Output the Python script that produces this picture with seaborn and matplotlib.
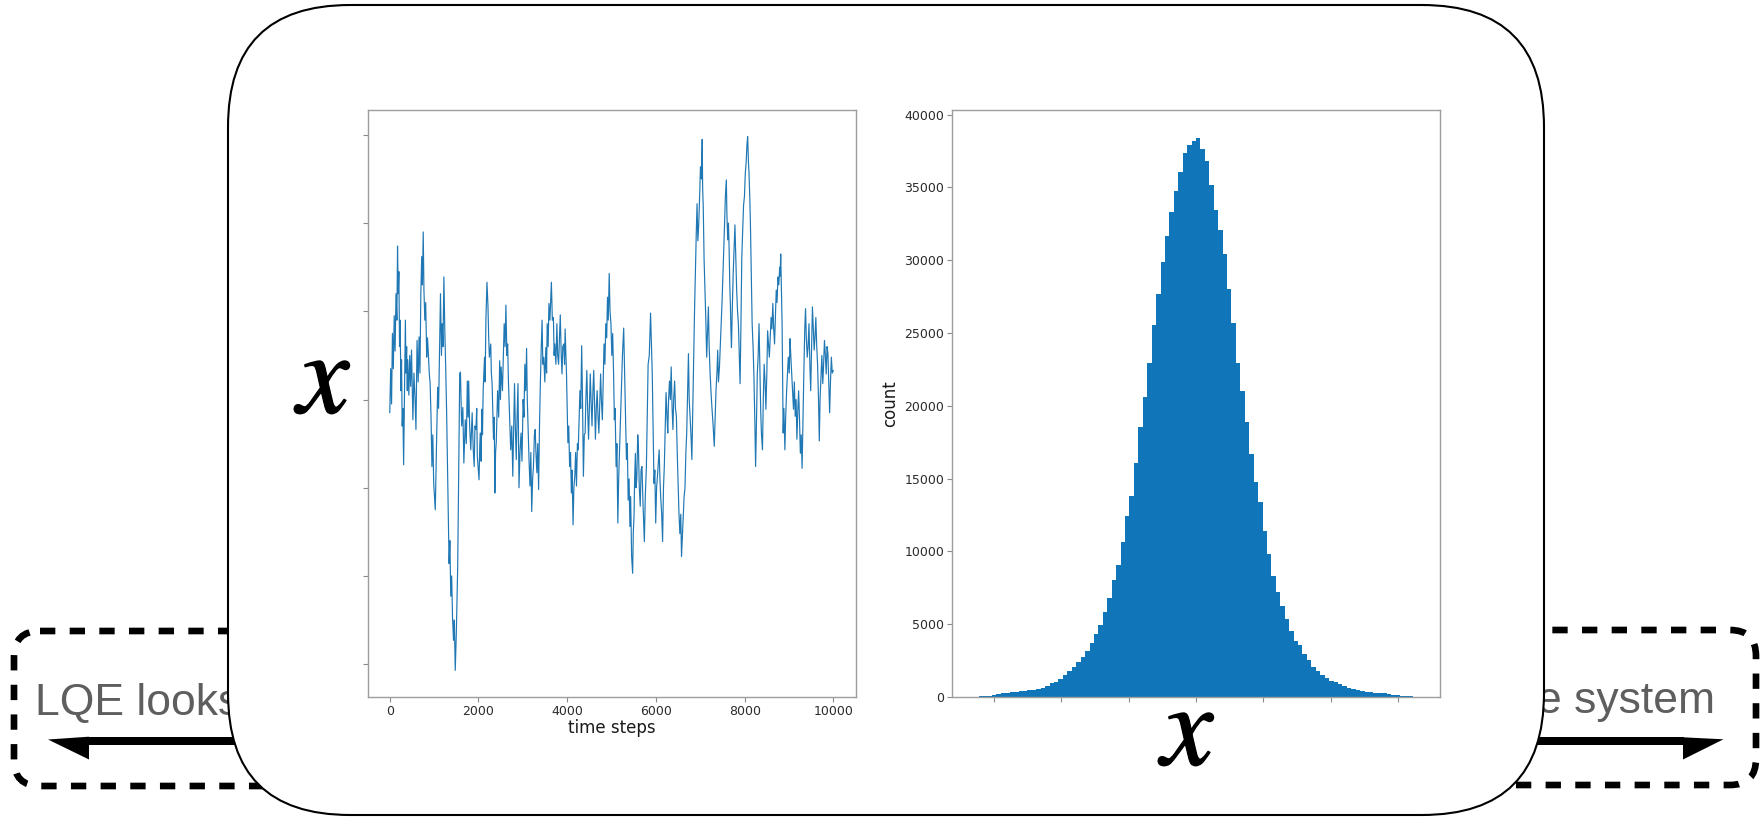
import numpy as np
import pandas as pd
import matplotlib
matplotlib.use("Agg")
import matplotlib.pyplot as plt
import matplotlib.patheffects as pe
from matplotlib.patches import FancyBboxPatch, Polygon, Rectangle
import seaborn as sns

# ---- simulated trajectory of x (time step, value) ----
step_times = [
    0, 20, 40, 60, 80, 100, 120, 140, 160, 175, 190, 205, 220, 235, 250, 265, 280, 295, 312, 325, 340, 352, 365, 380, 395,
    405, 430, 450, 470, 490, 521, 545, 570, 590, 615, 640, 660, 680, 700, 720, 735, 754, 770, 790, 810, 832, 850, 870, 890, 910,
    930, 950, 970, 990, 1026, 1050, 1080, 1100, 1125, 1143, 1165, 1181, 1200, 1220, 1240, 1259, 1280, 1298,
    1337, 1355, 1375, 1395, 1414, 1437, 1455, 1476, 1500, 1531, 1554, 1577, 1593, 1620, 1647, 1670, 1702, 1725, 1748, 1765,
    1779, 1800, 1826, 1857, 1880, 1903, 1920, 1942, 1960, 1973, 2012, 2030, 2043, 2060, 2074, 2090, 2105,
    2136, 2150, 2167, 2191, 2214, 2230, 2245, 2276, 2290, 2307, 2338, 2355, 2369, 2385, 2400, 2431, 2455, 2478, 2495, 2509,
    2540, 2560, 2579, 2600, 2618, 2640, 2657, 2675, 2695, 2726, 2750, 2773, 2790, 2812, 2830, 2851, 2870, 2890, 2913, 2935,
    2959, 2980, 3006,
    3025, 3045, 3065, 3084, 3100, 3122, 3140, 3161, 3180, 3200, 3220, 3239, 3260, 3278, 3295, 3316, 3335, 3355, 3375, 3394,
    3410, 3433, 3450, 3472, 3495,
    3518, 3535, 3549, 3570, 3588, 3610, 3643, 3665, 3689, 3705, 3720, 3745, 3767, 3785, 3806, 3825, 3844, 3865, 3883, 3900,
    3922, 3940, 3953, 3970, 3984,
    4015, 4035, 4054, 4075, 4093, 4110, 4132, 4150, 4171, 4190, 4209, 4230, 4248, 4270, 4287, 4305, 4326, 4345, 4365, 4385,
    4404, 4420, 4442, 4460, 4481, 4500,
    4520, 4540, 4559, 4580, 4598, 4615, 4636, 4655, 4675, 4695, 4714, 4735, 4753, 4770, 4792, 4810, 4830, 4850, 4869, 4890,
    4908, 4925, 4947, 4965, 4986,
    5005, 5025, 5045, 5063, 5080, 5102, 5120, 5141, 5160, 5180, 5200, 5219, 5245, 5273, 5290, 5304, 5320, 5335, 5355, 5374,
    5395, 5413, 5430, 5452, 5475, 5490, 5506,
    5520, 5537, 5550, 5568, 5590, 5607, 5625, 5646, 5665, 5685, 5710, 5739, 5760, 5785, 5805, 5824, 5850, 5879, 5900, 5917,
    5935, 5956, 5975, 5995,
    6015, 6034, 6055, 6073, 6090, 6111, 6130, 6150, 6170, 6189, 6210, 6228, 6250, 6267, 6285, 6306, 6325, 6344, 6365, 6383,
    6400, 6422, 6440, 6461, 6480, 6500,
    6520, 6539, 6560, 6577, 6600, 6616, 6635, 6655, 6675, 6694, 6715, 6733, 6750, 6772, 6790, 6810, 6830, 6849, 6870, 6888,
    6910, 6927, 6945, 6966, 6985, 7004,
    7025, 7043, 7053, 7067, 7085, 7105, 7125, 7144, 7165, 7183, 7200, 7222, 7240, 7261, 7290, 7315, 7335, 7354, 7375, 7393,
    7410, 7432, 7450, 7470, 7490, 7509,
    7530, 7548, 7565, 7587, 7600, 7618, 7635, 7649, 7665, 7680, 7690, 7703, 7720, 7742, 7760, 7781, 7800, 7820, 7840, 7859,
    7880, 7897, 7915, 7936, 7955, 7975,
    7995, 8014, 8035, 8053, 8068, 8085, 8099, 8115, 8130, 8150, 8169, 8190, 8208, 8228, 8247, 8265, 8285, 8305, 8324, 8345,
    8363, 8380, 8402, 8420, 8440, 8460, 8479, 8500,
    8518, 8540, 8557, 8575, 8596, 8615, 8635, 8655, 8674, 8690, 8712, 8730, 8751, 8770, 8790, 8800, 8813, 8830, 8844, 8855,
    8868, 8885, 8907, 8925, 8946, 8965, 8984,
    9005, 9023, 9040, 9062, 9080, 9101, 9120, 9140, 9160, 9178, 9200, 9217, 9235, 9256, 9275, 9295, 9315, 9334, 9355, 9373,
    9390, 9411, 9430, 9450, 9470, 9489, 9510, 9528, 9548, 9567, 9585, 9605, 9625, 9644, 9665, 9683, 9700, 9722, 9740, 9761,
    9780, 9799, 9820, 9838, 9858, 9877, 9895, 9916, 9935, 9955, 9975, 9999,
]
x_values = [
    -0.15, 0.35, -0.05, 0.75, 0.35, 0.95, 0.55, 1.2, 0.9, 1.74, 1.2, 1.45, 0.6, 0.9, 0.1, 0.45, -0.3, -0.1, -0.74, -0.2, 0.5, 0.9, 0.3, 0.6, 0.1,
    0.45, 0.05, 0.5, 0.15, 0.56, -0.23, 0.3, 0.0, -0.34, 0.67, 0.2, 0.71, 0.3, 1.2, 1.62, 1.3, 1.9, 1.24, 0.9, 1.1, 0.48, 0.7, 0.52, 0.3, 0.18,
    -0.2, -0.76, -0.4, -0.95, -1.25, -0.6, 0.14, -0.1, 0.7, 1.2, 0.5, 0.86, 0.6, 1.39, 0.8, 0.4, -0.1, -0.68,
    -1.86, -1.6, -2.23, -2.0, -2.46, -2.73, -2.5, -3.07, -2.65, -1.9, -0.76, 0.29, 0.31, -0.3, -0.09, -0.72, -0.23, -0.5, 0.21, -0.2,
    0.21, -0.3, -0.57, -0.15, -0.55, -0.76, -0.3, -0.34, -0.1, -0.64, -0.91, -0.5, -0.38, -0.7, -0.11, -0.4, 0.1,
    0.48, 0.2, 0.9, 1.33, 1.05, 0.7, 0.48, 0.63, 0.3, 0.18, -0.45, -0.2, -1.06, -0.6, -0.49, 0.1, -0.2, 0.44, 0.0, 0.37,
    0.1, 0.5, 0.86, 0.6, 1.07, 0.5, 0.63, 0.2, -0.11, -0.57, -0.3, -0.87, -0.4, 0.18, -0.3, -0.68, -0.2, 0.18, -1.0, -0.6,
    -0.38, -0.7, 0.0,
    -0.2, 0.4, 0.1, 0.58, 0.0, -0.38, -0.7, -0.98, -0.6, -1.27, -0.9, -0.76, -0.4, -0.34, -0.6, -0.83, -0.5, -1.02, -0.3, 0.18,
    0.5, 0.9, 0.4, 0.48, 0.2,
    0.59, 0.3, 0.86, 0.6, 1.09, 0.9, 1.33, 0.9, 0.93, 0.5, 0.63, 0.4, 0.86, 0.5, 0.4, 0.7, 0.96, 0.5, 0.29, 0.6,
    0.63, 0.4, 0.8, 0.5, 0.29,
    -0.49, -0.3, -0.76, -0.6, -1.06, -0.8, -1.42, -1.0, -0.87, -0.6, -0.98, -0.5, -0.57, -0.2, 0.1, -0.1, 0.61, 0.0, -0.87, -0.4,
    -0.38, 0.0, 0.33, -0.1, -0.45, -0.1,
    0.29, -0.05, -0.3, 0.1, 0.33, 0.0, -0.45, -0.1, 0.1, -0.2, -0.38, 0.0, 0.29, 0.0, -0.23, 0.2, 0.63, 0.4, 0.86, 0.7,
    1.16, 0.9, 1.43, 1.0, 0.86,
    0.5, 0.75, 0.3, -0.23, -0.1, -0.76, -0.5, -1.4, -0.9, -0.57, -0.2, 0.1, 0.5, 0.81, 0.4, 0.1, -0.3, -0.68, -0.5, -1.14,
    -0.9, -1.44, -1.1, -1.78, -1.97, -1.5, -1.33,
    -0.9, -0.61, -1.0, -0.91, -0.4, -0.57, -1.0, -1.21, -0.8, -0.76, -1.2, -1.61, -1.1, -0.76, -0.2, 0.4, 0.5, 0.98, 0.6, 0.29,
    -0.3, -0.95, -0.8, -1.4,
    -1.0, -0.87, -0.7, -0.57, -0.9, -1.14, -1.3, -1.61, -1.0, -0.76, -0.3, 0.08, -0.2, -0.38, 0.0, 0.21, 0.0, 0.37, -0.1, -0.34,
    0.0, 0.21, -0.1, -0.19, -0.6, -0.95,
    -1.3, -1.52, -1.3, -1.78, -1.5, -1.33, -1.1, -1.0, -0.6, -0.38, 0.1, 0.52, 0.0, -0.23, -0.4, -0.68, -0.1, 0.48, 1.0, 1.43,
    1.9, 2.22, 1.8, 2.0, 2.3, 2.64,
    2.5, 2.95, 2.4, 2.18, 1.6, 1.24, 0.9, 0.48, 0.8, 1.05, 0.6, 0.29, 0.1, -0.08, -0.3, -0.53, -0.2, 0.1, 0.3, 0.56,
    0.2, 0.37, 0.6, 0.86, 1.1, 1.39,
    1.7, 2.0, 2.3, 2.49, 2.1, 1.81, 2.0, 1.73, 1.3, 1.05, 0.8, 0.59, 1.0, 1.43, 1.7, 1.98, 1.6, 1.24, 1.0, 0.86,
    0.5, 0.18, 0.8, 1.62, 1.9, 2.2,
    2.3, 2.56, 2.7, 2.9, 2.98, 2.7, 2.56, 2.3, 2.0, 1.4, 0.86, 0.6, 0.29, -0.2, -0.76, -0.3, 0.29, 0.5, 0.86, 0.3,
    -0.15, -0.4, -0.57, 0.0, 0.4, 0.2, -0.11, 0.3,
    0.78, 0.6, 0.48, 0.7, 0.93, 0.8, 1.09, 0.8, 0.63, 0.9, 1.24, 1.1, 1.39, 1.3, 1.5, 1.4, 1.65, 1.2, 0.86, 0.3,
    -0.38, -0.1, -0.57, -0.2, 0.1, 0.3, 0.48,
    0.3, 0.69, 0.5, 0.29, 0.1, -0.11, 0.2, -0.19, 0.0, -0.45, -0.1, 0.1, -0.2, -0.61, -0.4, -0.78, -0.2, 0.29, 0.8, 1.03,
    0.7, 0.48, 0.6, 0.86, 0.4, 0.1, 0.6, 1.05, 0.8, 0.56, 0.7, 0.93, 0.6, 0.4, 0.0, -0.47, 0.0, 0.29, 0.5, 0.18,
    0.4, 0.67, 0.5, 0.29, 0.6, 0.52, 0.2, -0.15, 0.2, 0.48, 0.3, 0.33,
]
time_ticks = [0, 2000, 4000, 6000, 8000, 10000]
x_ticks = [-3, -2, -1, 0, 1, 2, 3]

# ---- histogram of x over a long run: 100 equal bins ----
hist_range = (-3.29, 3.29)
bin_counts = [
    25, 45, 70, 100, 145, 195, 245, 290, 330, 365,
    395, 420, 450, 510, 570, 650, 760, 930, 1060, 1230,
    1480, 1790, 2070, 2430, 2750, 3150, 3680, 4320, 4915, 5840,
    6790, 8035, 9090, 10665, 12405, 13830, 16080, 18570, 20630, 22920,
    25565, 27650, 29860, 31690, 33330, 34770, 36090, 37380, 37900, 38200,
    38400, 37620, 36800, 35190, 33455, 32080, 30400, 28050, 25660, 22950,
    21010, 18870, 16710, 14760, 13380, 11370, 9810, 8300, 7200, 6220,
    5390, 4550, 3820, 3560, 2960, 2520, 2050, 1800, 1530, 1310,
    1130, 1000, 860, 740, 650, 560, 490, 430, 370, 325,
    300, 275, 250, 205, 160, 135, 95, 70, 45, 20,
]
count_ticks = [0, 5000, 10000, 15000, 20000, 25000, 30000, 35000, 40000]

sns.set_theme(style="white")
plt.rcParams["font.family"] = ["DejaVu Sans"]
plt.rcParams["mathtext.fontset"] = "stix"

W, H = 1760, 819
fig = plt.figure(figsize=(W / 100, H / 100), dpi=100)
fig.patch.set_facecolor("white")

# canvas axes in pixel units (y downwards) for the slide decorations
bg = fig.add_axes([0, 0, 1, 1])
bg.set_xlim(0, W)
bg.set_ylim(H, 0)
bg.axis("off")

dash_kw = dict(boxstyle="round,pad=0,rounding_size=26", fc="none", ec="black",
               lw=4.8, linestyle=(0, (2.3, 2.15)), zorder=1)
bg.add_patch(FancyBboxPatch((14, 631), 560, 155, **dash_kw))
bg.add_patch(FancyBboxPatch((1200, 630), 556, 155, **dash_kw))

txt_kw = dict(fontsize=32, color="#5e5e5e", family=["Liberation Sans", "DejaVu Sans"],
              va="baseline", zorder=2)
bg.text(35, 715, "LQE looks", ha="left", **txt_kw)
bg.text(1715, 713, "e system", ha="right", **txt_kw)

# arrows with a one-sided head
bg.add_patch(Rectangle((88, 737), 300, 7.5, fc="black", ec="none", zorder=2))
bg.add_patch(Polygon([(48, 739.5), (89, 736.7), (89, 759.5)], closed=True, fc="black", ec="none", zorder=2))
bg.add_patch(Rectangle((1400, 737.3), 284, 7.5, fc="black", ec="none", zorder=2))
bg.add_patch(Polygon([(1683, 737.3), (1683, 759.5), (1723.5, 739.3)], closed=True, fc="black", ec="none", zorder=2))

# main rounded panel
bg.add_patch(FancyBboxPatch((228, 5), 1316, 810, boxstyle="round,pad=0,rounding_size=122",
                            fc="white", ec="black", lw=1.5, zorder=3))

sym_kw = dict(fontsize=84, ha="center", va="center", color="black", zorder=4,
              path_effects=[pe.withStroke(linewidth=1.0, foreground="black")])
bg.text(326, 381, r"$x$", **sym_kw)
bg.text(1190, 733, r"$x$", **sym_kw)

spine_color = "#9e9e9e"


def style_axes(ax):
    for s in ax.spines.values():
        s.set_visible(True)
        s.set_color(spine_color)
        s.set_linewidth(1.0)
    ax.tick_params(axis="both", which="both", bottom=True, left=True, direction="out",
                   length=3.5, width=0.8, color="#8a8a8a", labelsize=9,
                   labelcolor="#2b2b2b", pad=2)
    ax.set_facecolor("white")


# time series panel
ax1 = fig.add_axes([367.6 / W, 1 - 697 / H, (855.5 - 367.6) / W, (697 - 110) / H])
sns.lineplot(x=step_times, y=x_values, ax=ax1, color="#1f77b4", linewidth=0.85)
ax1.set_xticks(time_ticks)
ax1.set_yticks(x_ticks)
ax1.set_yticklabels([])
ax1.set_xlabel("time steps", fontsize=12, labelpad=1, color="#1a1a1a")
ax1.set_ylabel("")
style_axes(ax1)

# histogram panel
n_bins = len(bin_counts)
bin_width = (hist_range[1] - hist_range[0]) / n_bins
hist_df = pd.DataFrame({
    "x": [hist_range[0] + (i + 0.5) * bin_width for i in range(n_bins)],
    "count": bin_counts,
})
ax2 = fig.add_axes([952 / W, 1 - 697 / H, 488 / W, (697 - 110) / H])
sns.histplot(data=hist_df, x="x", weights="count", bins=n_bins, binrange=hist_range,
             ax=ax2, element="step", fill=True, color="#1175ba", alpha=1, linewidth=0)
span = hist_range[1] - hist_range[0]
ax2.set_xlim(hist_range[0] - 0.05 * span, hist_range[1] + 0.05 * span)
ax2.set_ylim(0, max(bin_counts) * 1.05)
ax2.set_xticks(x_ticks)
ax2.set_xticklabels([])
ax2.set_yticks(count_ticks)
ax2.set_xlabel("")
ax2.set_ylabel("count", fontsize=12, labelpad=4, color="#1a1a1a")
style_axes(ax2)

fig.savefig("out.png", dpi=100, facecolor="white")
